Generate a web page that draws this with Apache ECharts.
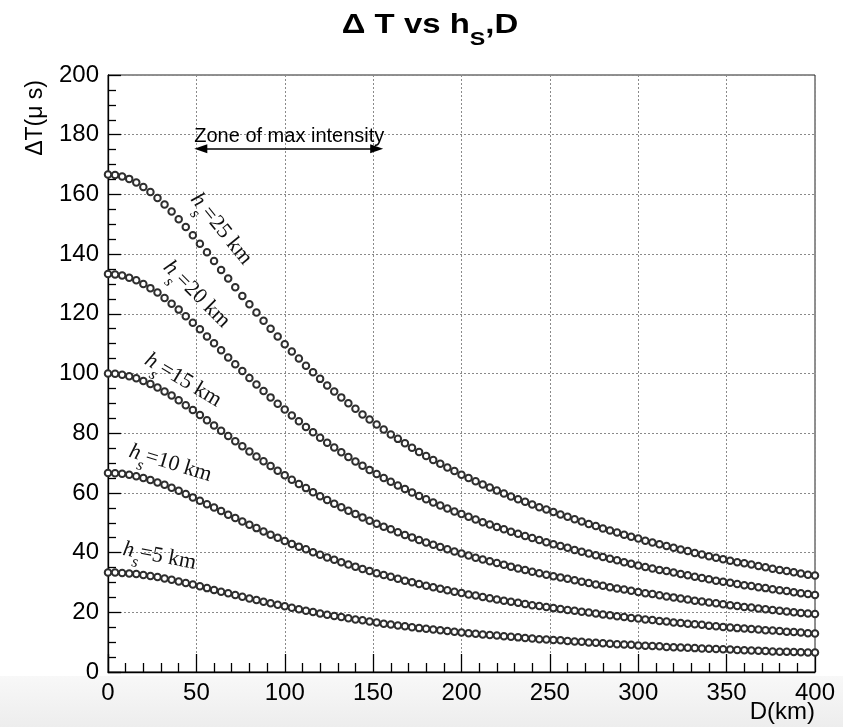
<!DOCTYPE html>
<html><head><meta charset="utf-8">
<script src="https://cdn.jsdelivr.net/npm/echarts/dist/echarts.min.js"></script>
<style>html,body{margin:0;padding:0;background:#fff}#c{width:851px;height:727px}</style>
</head><body><div id="c"></div>
<script>
// ---- data ----
const D_km = [0,4,8,12,16,20,24,28,32,36,40,44,48,52,56,60,64,68,72,76,80,84,88,92,96,100,104,108,112,116,120,124,128,132,136,140,144,148,152,156,160,164,168,172,176,180,184,188,192,196,200,204,208,212,216,220,224,228,232,236,240,244,248,252,256,260,264,268,272,276,280,284,288,292,296,300,304,308,312,316,320,324,328,332,336,340,344,348,352,356,360,364,368,372,376,380,384,388,392,396,400];
const dT_h25 = [166.7,166.5,166.0,165.2,164.0,162.5,160.8,158.8,156.6,154.3,151.7,149.1,146.3,143.5,140.6,137.7,134.7,131.8,128.9,126.0,123.2,120.4,117.7,115.0,112.4,109.8,107.4,105.0,102.6,100.4,98.2,96.0,94.0,92.0,90.0,88.2,86.3,84.6,82.9,81.2,79.6,78.1,76.6,75.1,73.7,72.4,71.0,69.8,68.5,67.3,66.1,65.0,63.9,62.8,61.8,60.8,59.8,58.8,57.9,57.0,56.1,55.2,54.4,53.6,52.8,52.0,51.2,50.4,49.6,48.9,48.1,47.4,46.7,46.0,45.3,44.7,44.0,43.4,42.8,42.2,41.6,41.0,40.5,39.9,39.4,38.8,38.3,37.8,37.3,36.8,36.4,36.0,35.5,35.1,34.6,34.2,33.8,33.4,33.0,32.6,32.3];
const dT_h20 = [133.3,133.2,132.8,132.1,131.2,130.0,128.6,127.1,125.3,123.4,121.4,119.2,117.0,114.8,112.4,110.1,107.8,105.4,103.1,100.8,98.5,96.3,94.1,92.0,89.9,87.9,85.9,84.0,82.1,80.3,78.5,76.8,75.2,73.6,72.0,70.5,69.1,67.7,66.3,65.0,63.7,62.5,61.3,60.1,59.0,57.9,56.8,55.8,54.8,53.8,52.9,52.0,51.1,50.2,49.4,48.6,47.8,47.0,46.3,45.6,44.9,44.2,43.5,42.8,42.2,41.6,40.9,40.3,39.7,39.1,38.5,37.9,37.4,36.8,36.3,35.7,35.2,34.7,34.2,33.8,33.3,32.8,32.4,31.9,31.5,31.1,30.6,30.2,29.9,29.5,29.1,28.8,28.4,28.1,27.7,27.4,27.1,26.7,26.4,26.1,25.8];
const dT_h15 = [100.0,99.9,99.6,99.1,98.4,97.5,96.5,95.3,94.0,92.6,91.0,89.4,87.8,86.1,84.3,82.6,80.8,79.1,77.3,75.6,73.9,72.2,70.6,69.0,67.4,65.9,64.4,63.0,61.6,60.2,58.9,57.6,56.4,55.2,54.0,52.9,51.8,50.7,49.7,48.7,47.8,46.8,45.9,45.1,44.2,43.4,42.6,41.9,41.1,40.4,39.7,39.0,38.3,37.7,37.1,36.5,35.9,35.3,34.7,34.2,33.6,33.1,32.6,32.1,31.7,31.2,30.7,30.2,29.8,29.3,28.9,28.4,28.0,27.6,27.2,26.8,26.4,26.1,25.7,25.3,25.0,24.6,24.3,23.9,23.6,23.3,23.0,22.7,22.4,22.1,21.8,21.6,21.3,21.0,20.8,20.5,20.3,20.0,19.8,19.6,19.4];
const dT_h10 = [66.7,66.6,66.4,66.1,65.6,65.0,64.3,63.5,62.7,61.7,60.7,59.6,58.5,57.4,56.2,55.1,53.9,52.7,51.6,50.4,49.3,48.2,47.1,46.0,45.0,43.9,42.9,42.0,41.1,40.1,39.3,38.4,37.6,36.8,36.0,35.3,34.5,33.8,33.1,32.5,31.9,31.2,30.6,30.1,29.5,28.9,28.4,27.9,27.4,26.9,26.5,26.0,25.6,25.1,24.7,24.3,23.9,23.5,23.2,22.8,22.4,22.1,21.8,21.4,21.1,20.8,20.5,20.2,19.9,19.6,19.3,19.0,18.7,18.4,18.1,17.9,17.6,17.4,17.1,16.9,16.6,16.4,16.2,16.0,15.8,15.5,15.3,15.1,14.9,14.7,14.6,14.4,14.2,14.0,13.9,13.7,13.5,13.4,13.2,13.0,12.9];
const dT_h5 = [33.3,33.3,33.2,33.0,32.8,32.5,32.2,31.8,31.3,30.9,30.3,29.8,29.3,28.7,28.1,27.5,26.9,26.4,25.8,25.2,24.6,24.1,23.5,23.0,22.5,22.0,21.5,21.0,20.5,20.1,19.6,19.2,18.8,18.4,18.0,17.6,17.3,16.9,16.6,16.2,15.9,15.6,15.3,15.0,14.7,14.5,14.2,14.0,13.7,13.5,13.2,13.0,12.8,12.6,12.4,12.2,12.0,11.8,11.6,11.4,11.2,11.0,10.9,10.7,10.6,10.4,10.2,10.1,9.9,9.8,9.6,9.5,9.3,9.2,9.1,8.9,8.8,8.7,8.6,8.4,8.3,8.2,8.1,8.0,7.9,7.8,7.7,7.6,7.5,7.4,7.3,7.2,7.1,7.0,6.9,6.8,6.8,6.7,6.6,6.5,6.5];
const seriesHeights = ['25','20','15','10','5'];
const seriesValues = [dT_h25, dT_h20, dT_h15, dT_h10, dT_h5];
const xTicks = [0,50,100,150,200,250,300,350,400];
const yTicks = [0,20,40,60,80,100,120,140,160,180,200];
const zoneFromTo = [52.5, 152];   // km, arrow shaft of "Zone of max intensity" (heads reach ~50 and ~156)
const zoneLevel = 175.3;          // µs
const zoneText = 'Zone of max intensity';

// ---- chart ----
const chart = echarts.init(document.getElementById('c'), null, {renderer:'canvas'});
const SANS = '"Liberation Sans", Arial, Helvetica, sans-serif';
const SERIF = '"Liberation Serif", "Times New Roman", serif';
const MARK = '#2e2e2e';

const series = seriesValues.map((vals, k) => ({
  type: 'scatter',
  name: 'h_s=' + seriesHeights[k] + ' km',
  data: D_km.map((d, i) => [d, vals[i]]),
  symbol: 'emptyCircle',
  symbolSize: 6.5,
  itemStyle: { color: MARK, borderColor: MARK, borderWidth: 2.2, opacity: 1 },
  emphasis: { disabled: true },
  silent: true,
  z: 5
}));
series.push({
  type: 'scatter', data: [], silent: true,
  markLine: {
    silent: true, animation: false,
    symbol: ['triangle', 'triangle'], symbolSize: [9, 13],
    lineStyle: { color: '#000', width: 1.6, type: 'solid' },
    label: { show: false },
    data: [[{ coord: [zoneFromTo[0], zoneLevel] }, { coord: [zoneFromTo[1], zoneLevel] }]]
  }
});

const gridLine = { show: true, lineStyle: { color: '#8a8a8a', width: 1, type: [2, 2] } };

const option = {
  animation: false,
  backgroundColor: '#fff',
  grid: { left: 108, top: 75, width: 707, height: 597, show: true, borderColor: '#222', borderWidth: 1, backgroundColor: 'transparent', containLabel: false },
  xAxis: {
    type: 'value', min: xTicks[0], max: xTicks[xTicks.length - 1], interval: xTicks[1] - xTicks[0],
    axisLine: { show: true, onZero: false, lineStyle: { color: '#000', width: 1.3 } },
    axisTick: { show: true, inside: true, length: 18, lineStyle: { color: '#000', width: 1.3 } },
    minorTick: { show: true, splitNumber: 5, length: 9, lineStyle: { color: '#000', width: 1.3 } },
    splitLine: gridLine,
    axisLabel: { color: '#000', fontSize: 24, fontFamily: SANS, margin: 9 }
  },
  yAxis: {
    type: 'value', min: yTicks[0], max: yTicks[yTicks.length - 1], interval: yTicks[1] - yTicks[0],
    axisLine: { show: true, onZero: false, lineStyle: { color: '#000', width: 1.3 } },
    axisTick: { show: true, inside: true, length: 13, lineStyle: { color: '#000', width: 1.3 } },
    minorTick: { show: true, splitNumber: 4, length: 8, lineStyle: { color: '#000', width: 1.3 } },
    splitLine: gridLine,
    axisLabel: { color: '#000', fontSize: 24, fontFamily: SANS, margin: 9 }
  },
  series: series
};
chart.setOption(option);

function curveLabel(h, x, y, deg) {
  return {
    type: 'text', x: x, y: y, rotation: -deg * Math.PI / 180, z: 20,
    style: {
      text: '{i|h}{s|s}{r|=' + h + ' km}',
      align: 'center', verticalAlign: 'middle',
      rich: {
        i: { fontFamily: SERIF, fontStyle: 'italic', fontSize: 22, lineHeight: 22, padding: [0, 0, 8, 0], verticalAlign: 'bottom', fill: '#111' },
        s: { fontFamily: SERIF, fontStyle: 'italic', fontSize: 16, lineHeight: 16, verticalAlign: 'bottom', fill: '#111' },
        r: { fontFamily: SERIF, fontSize: 22, lineHeight: 22, padding: [0, 0, 8, 0], verticalAlign: 'bottom', fill: '#111' }
      }
    }
  };
}

const zonePx = chart.convertToPixel({ gridIndex: 0 }, [102, 180]);

chart.setOption({
  graphic: [
    { type: 'rect', z: -100, silent: true, shape: { x: 0, y: 676, width: 843, height: 51 },
      style: { fill: new echarts.graphic.LinearGradient(0, 0, 0, 1, [{ offset: 0, color: '#f8f8f8' }, { offset: 1, color: '#ededed' }]) } },
    { type: 'text', x: 430, y: 34, scaleX: 1.22, z: 20,
      style: {
        text: '{a|\u0394 T vs h}{s|S}{a|,D}', align: 'center', verticalAlign: 'middle',
        rich: {
          a: { fontFamily: SANS, fontWeight: 'bold', fontSize: 27, lineHeight: 30, padding: [0, 0, 10, 0], verticalAlign: 'bottom', fill: '#000' },
          s: { fontFamily: SANS, fontWeight: 'bold', fontSize: 19, lineHeight: 20, verticalAlign: 'bottom', fill: '#000' }
        }
      } },
    { type: 'text', x: 36, y: 80, rotation: Math.PI / 2, z: 20,
      style: { text: '\u0394T(\u03bc s)', fontFamily: SANS, fontSize: 23, fill: '#000', align: 'right', verticalAlign: 'middle' } },
    { type: 'text', x: 815, y: 712, z: 20,
      style: { text: 'D(km)', fontFamily: SANS, fontSize: 24, fill: '#000', align: 'right', verticalAlign: 'middle' } },
    { type: 'text', x: zonePx[0] + 1, y: zonePx[1] + 2, z: 20,
      style: { text: zoneText, fontFamily: SANS, fontSize: 20, fill: '#000', align: 'center', verticalAlign: 'middle' } },
    curveLabel('25', 215, 234, 51),
    curveLabel('20', 191, 300, 45),
    curveLabel('15', 179, 387, 31),
    curveLabel('10', 168, 471, 17),
    curveLabel('5', 158, 564, 11)
  ]
});
</script>
</body></html>
